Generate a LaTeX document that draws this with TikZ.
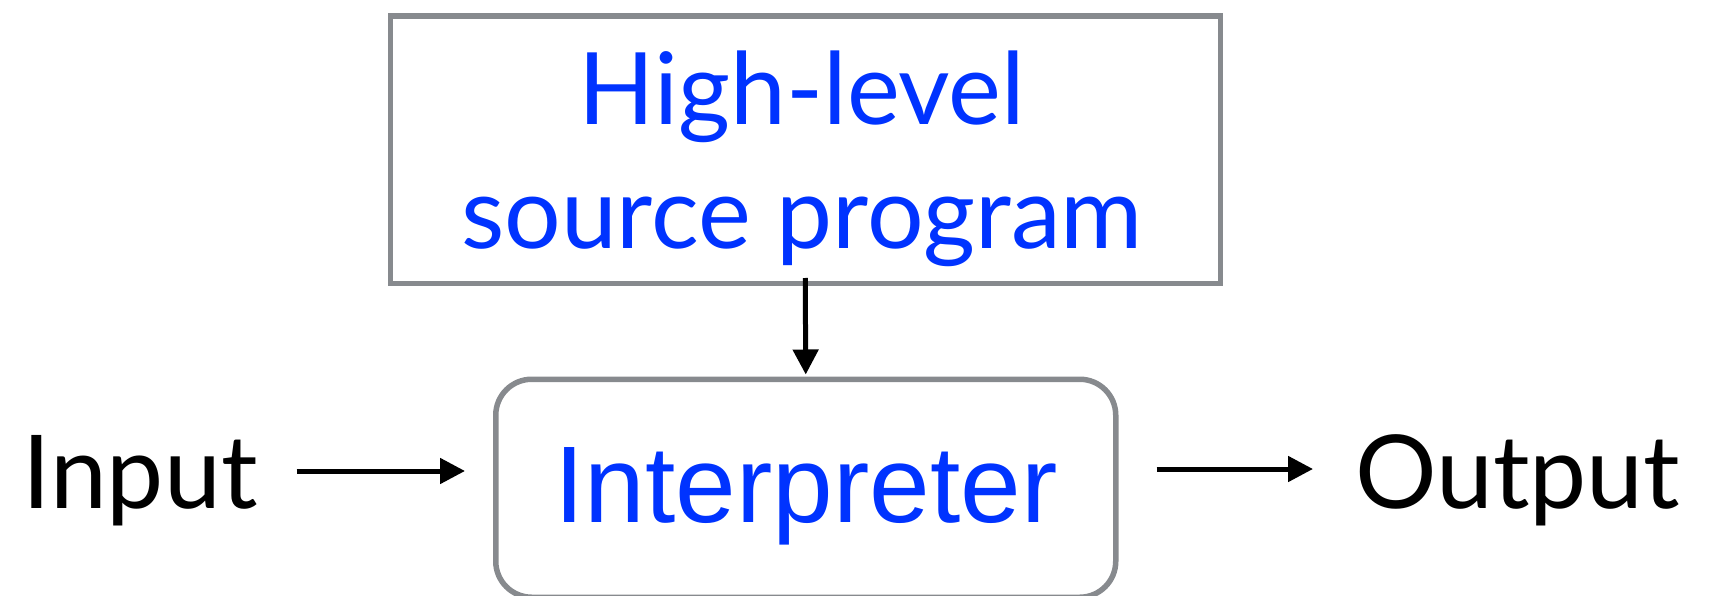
\documentclass[tikz,border=0pt]{standalone}
\usepackage{fontspec}
\setmainfont{Lato}
\newfontfamily\arialfont{Liberation Sans}
\usetikzlibrary{arrows.meta}
\definecolor{txtblue}{HTML}{0033FF}
\definecolor{boxgray}{HTML}{878A8E}
\begin{document}
\begin{tikzpicture}[x=1pt,y=-1pt,
  boxline/.style={draw=boxgray, line width=5.5pt, inner sep=0pt},
  arr/.style={line width=5pt, -{Triangle[length=25pt,width=25pt]}},
  bigtext/.style={font=\fontsize{102}{102}\selectfont, inner sep=0pt},
  bluetext/.style={font=\fontsize{100}{100}\selectfont, text=txtblue, inner sep=0pt},
  interptext/.style={font=\arialfont\fontsize{109}{109}\selectfont, text=txtblue, inner sep=0pt}]
\useasboundingbox (0,0) rectangle (1711,596);
% top box
\node[boxline, minimum width=830pt, minimum height=267pt, anchor=north west] (src) at (387.5,13.5) {};
\node[bluetext, anchor=base] (hl) at (802,125) {High-level};
\begin{scope}
\clip (380,0) rectangle (1220,267);
\node[bluetext, anchor=base] (sp) at (802,248) {source program};
\end{scope}
% interpreter box
\node[boxline, rounded corners=36pt, minimum width=620pt, minimum height=218pt, anchor=north west] (interp) at (493,376.5) {};
\node[interptext, anchor=base] (it) at (806,522) {Interpreter};
% input / output
\node[bigtext, anchor=base west] (in) at (22,508) {Input};
\node[bigtext, anchor=base west] (out) at (1355,508) {Output};
\coordinate (ay) at (0,471);
\coordinate (by) at (0,469);
\draw[arr] ([xshift=39pt]in.east |- ay) -- ([xshift=-28pt]interp.west |- ay);
\draw[arr] ([xshift=38pt]interp.east |- by) -- ([xshift=-42pt]out.west |- by);
\draw[arr] ([yshift=8pt]src.south) -- ([yshift=2pt]interp.north);
\end{tikzpicture}
\end{document}
